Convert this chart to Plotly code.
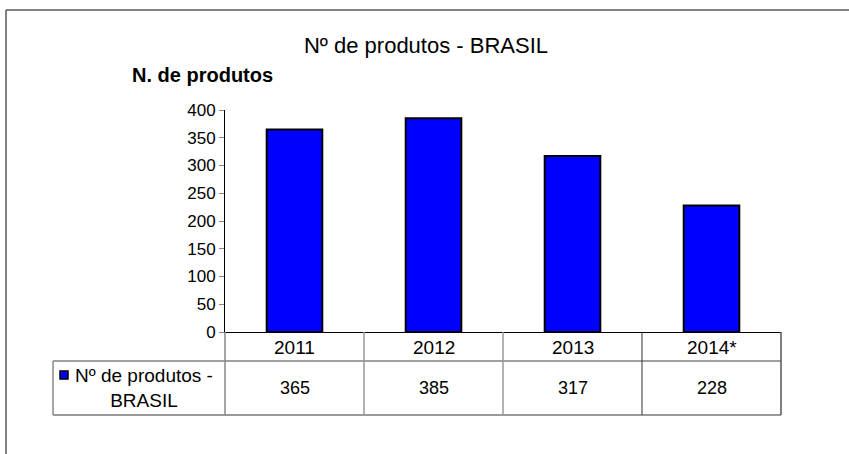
import plotly.graph_objects as go

categories = ["2011", "2012", "2013", "2014*"]
values = [365, 385, 317, 228]
series_name = "Nº de produtos - BRASIL"
chart_title = "Nº de produtos - BRASIL"
y_title = "N. de produtos"
y_ticks = [0, 50, 100, 150, 200, 250, 300, 350, 400]

FONT = "Liberation Sans, Arial, sans-serif"
W, H = 849, 454
L, R, T, B = 225, 68, 110, 122
PW = W - L - R
PH = H - T - B


def px(x):
    return (x - L) / PW


def py(y):
    return (H - B - y) / PH


fig = go.Figure()
fig.add_trace(go.Bar(
    x=categories, y=values, name=series_name, width=0.4,
    marker=dict(color="#0000FF", line=dict(color="#000000", width=2)),
    showlegend=False,
))

shapes = []
# outer chart border (top and left)
shapes.append(dict(type="line", xref="paper", yref="paper", x0=px(6), x1=px(849), y0=py(10), y1=py(10),
                   line=dict(color="#595959", width=1.5)))
shapes.append(dict(type="line", xref="paper", yref="paper", x0=px(6), x1=px(6), y0=py(10), y1=py(454),
                   line=dict(color="#595959", width=1.5)))
# data table grid
shapes.append(dict(type="line", xref="paper", yref="paper", x0=px(53), x1=1, y0=py(361), y1=py(361),
                   line=dict(color="#404040", width=1)))
shapes.append(dict(type="line", xref="paper", yref="paper", x0=px(53), x1=1, y0=py(415), y1=py(415),
                   line=dict(color="#999999", width=2)))
shapes.append(dict(type="line", xref="paper", yref="paper", x0=px(53), x1=px(53), y0=py(361), y1=py(415),
                   line=dict(color="#888888", width=1.5)))
shapes.append(dict(type="line", xref="paper", yref="paper", x0=0, x1=0, y0=0, y1=py(415),
                   line=dict(color="#888888", width=1.5)))
shapes.append(dict(type="line", xref="paper", yref="paper", x0=1, x1=1, y0=0, y1=py(415),
                   line=dict(color="#555555", width=1.5)))
for i in range(len(categories) - 1):
    shapes.append(dict(type="line", xref="x", yref="paper", x0=i + 0.5, x1=i + 0.5, y0=0, y1=py(415),
                       line=dict(color="#999999" if i < 2 else "#333333", width=1.5 if i < 2 else 1)))
# legend key
shapes.append(dict(type="rect", xref="paper", yref="paper", x0=px(60), x1=px(68), y0=py(379), y1=py(371),
                   fillcolor="#0000FF", line=dict(color="#000000", width=1.5)))

annotations = []
for i, (c, v) in enumerate(zip(categories, values)):
    annotations.append(dict(x=i, xref="x", y=py(347), yref="paper", text=c, showarrow=False,
                            xanchor="center", yanchor="middle", font=dict(size=19, color="#000")))
    annotations.append(dict(x=i, xref="x", y=py(388), yref="paper", text=str(v), showarrow=False,
                            xanchor="center", yanchor="middle", font=dict(size=18, color="#000")))
annotations.append(dict(x=px(144), xref="paper", y=py(388), yref="paper",
                        text="Nº de produtos -<br>BRASIL", showarrow=False, align="center",
                        xanchor="center", yanchor="middle", font=dict(size=19, color="#000")))
annotations.append(dict(x=px(130), xref="paper", y=py(75), yref="paper", text="<b>" + y_title + "</b>",
                        showarrow=False, xanchor="left", yanchor="middle", font=dict(size=20, color="#000")))

fig.update_layout(
    width=W, height=H,
    margin=dict(l=L, r=R, t=T, b=B),
    paper_bgcolor="white", plot_bgcolor="white",
    font=dict(family=FONT, color="#000"),
    title=dict(text=chart_title, x=426 / W, xanchor="center", y=1 - 45 / H, yanchor="middle",
               font=dict(size=22, color="#000")),
    xaxis=dict(type="category", range=[-0.5, len(categories) - 0.5], showticklabels=False,
               showline=True, linecolor="#000", linewidth=1, ticks="", showgrid=False, fixedrange=True),
    yaxis=dict(range=[0, 400], tickvals=y_ticks, ticks="outside", ticklen=5, tickcolor="#888",
               showline=True, linecolor="#000", linewidth=1, showgrid=False, zeroline=False,
               tickfont=dict(size=17, color="#000"), fixedrange=True),
    shapes=shapes, annotations=annotations,
    bargap=0.6,
)

fig.write_html("out.html", config={"displayModeBar": False},
               post_script="document.body.style.margin='0';document.body.style.overflow='hidden';")
